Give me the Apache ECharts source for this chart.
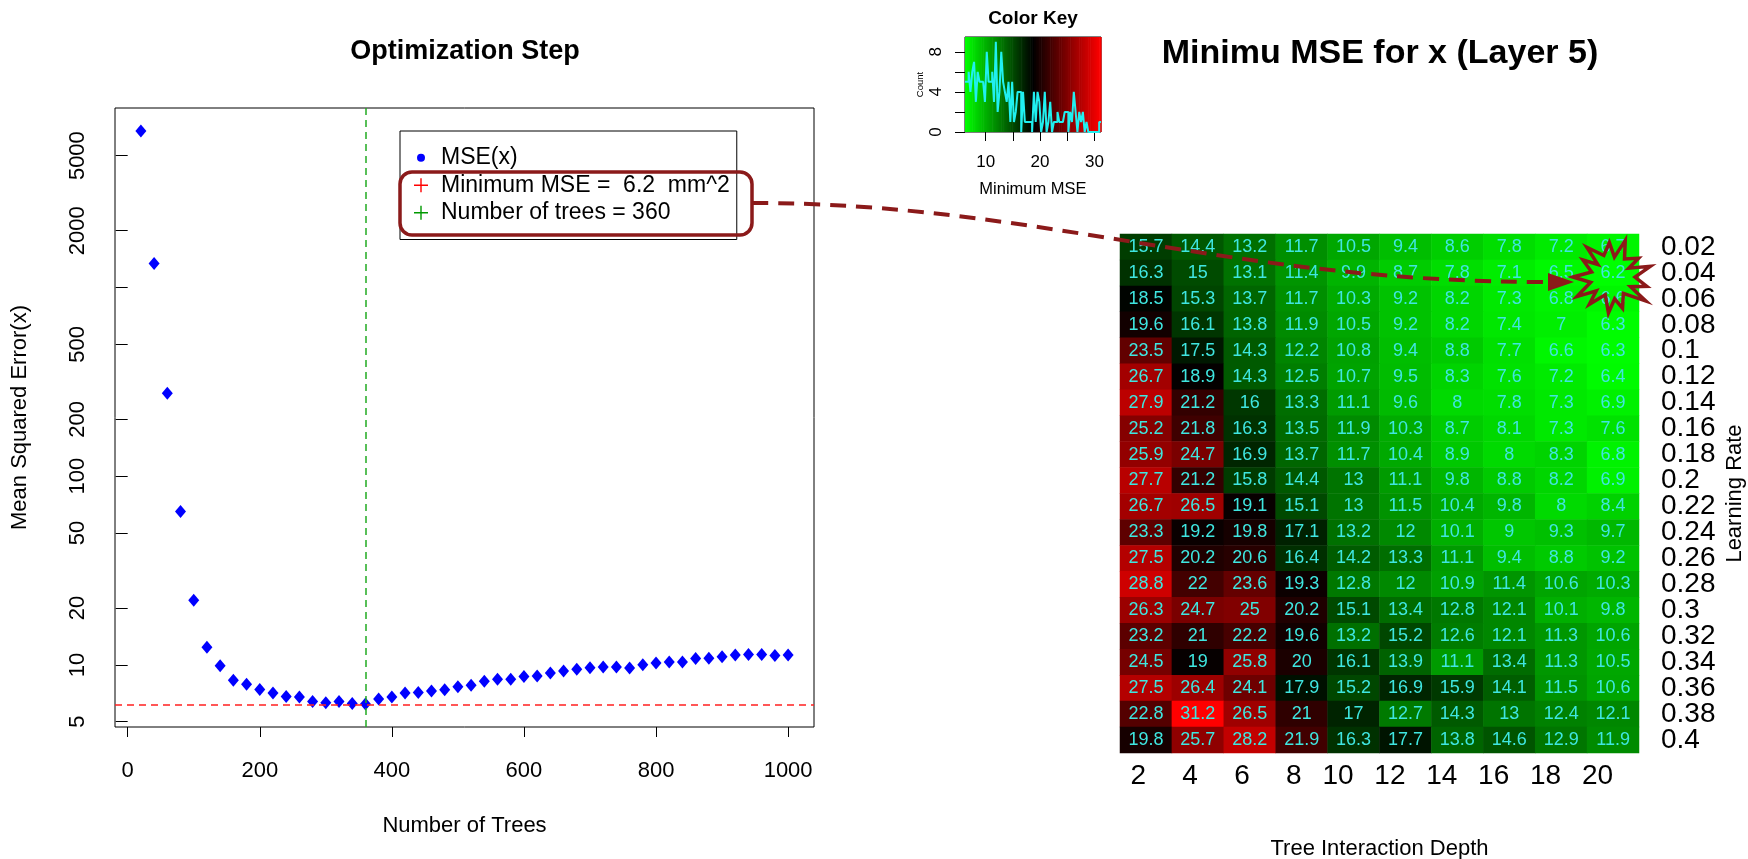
<!DOCTYPE html>
<html><head><meta charset="utf-8">
<script src="https://cdn.jsdelivr.net/npm/echarts@6/dist/echarts.min.js"></script>
<style>html,body{margin:0;padding:0;background:#fff}#c{width:1748px;height:859px}</style>
</head><body><div id="c"></div>
<script>
// ---------- data ----------
const trees = [20,40,60,80,100,120,140,160,180,200,220,240,260,280,300,320,340,360,380,400,
  420,440,460,480,500,520,540,560,580,600,620,640,660,680,700,720,740,760,780,800,
  820,840,860,880,900,920,940,960,980,1000];
const mse = [6760,1340,275,65,22,12.4,9.9,8.3,7.9,7.4,7.1,6.8,6.75,6.4,6.3,6.4,6.25,6.2,6.6,6.75,
  7.1,7.15,7.27,7.38,7.67,7.79,8.18,8.39,8.39,8.67,8.74,9.06,9.28,9.47,9.67,9.74,9.74,9.62,10.03,10.23,
  10.35,10.35,10.8,10.85,11.06,11.28,11.37,11.37,11.2,11.3];
const xTickValues = [0,200,400,600,800,1000];
const yTickValues = [5,10,20,50,100,200,500,1000,2000,5000];
const yLabelValues = [5,10,20,50,100,200,500,2000,5000];

const depthLabels = ['2','4','6','8','10','12','14','16','18','20'];
const rateLabels = ['0.02','0.04','0.06','0.08','0.1','0.12','0.14','0.16','0.18','0.2',
  '0.22','0.24','0.26','0.28','0.3','0.32','0.34','0.36','0.38','0.4'];
const mseGrid = [
  [15.7,14.4,13.2,11.7,10.5,9.4,8.6,7.8,7.2,6.7],
  [16.3,15,13.1,11.4,9.9,8.7,7.8,7.1,6.5,6.2],
  [18.5,15.3,13.7,11.7,10.3,9.2,8.2,7.3,6.8,6.6],
  [19.6,16.1,13.8,11.9,10.5,9.2,8.2,7.4,7,6.3],
  [23.5,17.5,14.3,12.2,10.8,9.4,8.8,7.7,6.6,6.3],
  [26.7,18.9,14.3,12.5,10.7,9.5,8.3,7.6,7.2,6.4],
  [27.9,21.2,16,13.3,11.1,9.6,8,7.8,7.3,6.9],
  [25.2,21.8,16.3,13.5,11.9,10.3,8.7,8.1,7.3,7.6],
  [25.9,24.7,16.9,13.7,11.7,10.4,8.9,8,8.3,6.8],
  [27.7,21.2,15.8,14.4,13,11.1,9.8,8.8,8.2,6.9],
  [26.7,26.5,19.1,15.1,13,11.5,10.4,9.8,8,8.4],
  [23.3,19.2,19.8,17.1,13.2,12,10.1,9,9.3,9.7],
  [27.5,20.2,20.6,16.4,14.2,13.3,11.1,9.4,8.8,9.2],
  [28.8,22,23.6,19.3,12.8,12,10.9,11.4,10.6,10.3],
  [26.3,24.7,25,20.2,15.1,13.4,12.8,12.1,10.1,9.8],
  [23.2,21,22.2,19.6,13.2,15.2,12.6,12.1,11.3,10.6],
  [24.5,19,25.8,20,16.1,13.9,11.1,13.4,11.3,10.5],
  [27.5,26.4,24.1,17.9,15.2,16.9,15.9,14.1,11.5,10.6],
  [22.8,31.2,26.5,21,17,12.7,14.3,13,12.4,12.1],
  [19.8,25.7,28.2,21.9,16.3,17.7,13.8,14.6,12.9,11.9]
];
const keyTickValues = [10,15,20,25,30];
const keyLabelValues = [10,20,30];
const keyCountTicks = [0,2,4,6,8];
const keyCountLabels = [0,4,8];
const keyBins = 75;

// ---------- derived ----------
const FONT = 'Liberation Sans, Arial, sans-serif';
const minIdx = mse.indexOf(Math.min(...mse));
const minMSE = mse[minIdx];
const bestTrees = trees[minIdx];
const xr = [Math.min(...trees), Math.max(...trees)];
const xExt = (xr[1]-xr[0])*0.04;
const ly = mse.map(v => Math.log10(v));
const yr = [Math.min(...ly), Math.max(...ly)];
const yExt = (yr[1]-yr[0])*0.04;

const heatData = [];
mseGrid.forEach((row, r) => row.forEach((v, c) => heatData.push([c, r, v])));
const flat = mseGrid.flat();
const vmin = Math.min(...flat), vmax = Math.max(...flat);
const breaks = [];
for (let i = 0; i <= keyBins; i++) breaks.push(vmin + (vmax - vmin) * i / keyBins);
const counts = new Array(keyBins).fill(0);
flat.forEach(v => {
  let k = Math.ceil((v - vmin) / (vmax - vmin) * keyBins - 1e-9) - 1;
  if (k < 0) k = 0; if (k >= keyBins) k = keyBins - 1;
  counts[k]++;
});
const maxCount = Math.max(...counts);
const histLine = breaks.map((b, i) => [b, counts[Math.min(i, keyBins - 1)]]);
const keyRects = [];
for (let i = 0; i < keyBins; i++) keyRects.push([breaks[i], breaks[i+1], (breaks[i]+breaks[i+1])/2]);
const keyYMax = maxCount / 0.95;

const minLabel = 'Minimum MSE =  ' + minMSE + '  mm^2';
const treesLabel = 'Number of trees = ' + bestTrees;
const plusIcon = 'path://M6.3,0H7.7V6.3H14V7.7H7.7V14H6.3V7.7H0V6.3H6.3Z';
const dotIcon = 'path://M0,0M14,14M11,7A4,4,0,1,1,3,7A4,4,0,1,1,11,7Z';

const DARKRED = '#8b1a1a';
const GREEN = '#22aa22';
const RED = '#ff2020';

// starburst outline (decoration)
const starC = [1612, 277];
const starOuter = [42,37,44,40,45,36,43,39,46,38,42,40,44];
const starInner = [21,19,23,20,22,19,23,21,20,22,19,21,22];
const starJit = [0,0.08,-0.06,0.05,-0.04,0.07,-0.05,0.04,-0.07,0.06,-0.03,0.05,-0.06];
const starPts = [];
for (let i = 0; i < starOuter.length; i++) {
  const a0 = Math.PI * 2 * i / starOuter.length + Math.PI + starJit[i];
  const a1 = Math.PI * 2 * (i + 0.5) / starOuter.length + Math.PI;
  starPts.push([starC[0] + Math.cos(a0) * starOuter[i] * 0.93, starC[1] + Math.sin(a0) * starOuter[i] * 0.86]);
  starPts.push([starC[0] + Math.cos(a1) * starInner[i], starC[1] + Math.sin(a1) * starInner[i]]);
}

const chart = echarts.init(document.getElementById('c'), null, {renderer: 'canvas'});
chart.setOption({
  animation: false,
  backgroundColor: '#fff',
  textStyle: {fontFamily: FONT},
  title: [
    {text: 'Optimization Step', left: 465, top: 52, textAlign: 'center', textVerticalAlign: 'middle', padding: 0,
      textStyle: {fontSize: 27, fontWeight: 'bold', color: '#000', fontFamily: FONT}},
    {text: 'Minimu MSE for x (Layer 5)', left: 1380, top: 54, textAlign: 'center', textVerticalAlign: 'middle', padding: 0,
      textStyle: {fontSize: 34, fontWeight: 'bold', color: '#000', fontFamily: FONT}},
    {text: 'Color Key', left: 1033, top: 19, textAlign: 'center', textVerticalAlign: 'middle', padding: 0,
      textStyle: {fontSize: 19, fontWeight: 'bold', color: '#000', fontFamily: FONT}}
  ],
  legend: {
    left: 400, top: 131, orient: 'vertical', padding: [13, 7, 13, 14], itemGap: 0,
    itemWidth: 14, itemHeight: 14, borderColor: '#000', borderWidth: 1, backgroundColor: '#fff',
    selectedMode: false,
    itemStyle: {opacity: 1},
    textStyle: {fontSize: 23, color: '#000', fontFamily: FONT, lineHeight: 27.5, padding: [0, 0, 0, 8]},
    data: [{name: 'MSE(x)', icon: dotIcon}, {name: minLabel, icon: plusIcon}, {name: treesLabel, icon: plusIcon}]
  },
  visualMap: {
    show: false, type: 'continuous', min: vmin, max: vmax, dimension: 2, seriesIndex: [3, 4],
    inRange: {color: ['#00ff00', '#000000', '#ff0000']}
  },
  grid: [
    {left: 115, top: 108, width: 699, height: 619, show: true, borderColor: '#000', borderWidth: 1,
      backgroundColor: 'transparent', outerBoundsMode: 'none', containLabel: false},
    {left: 1120, top: 234, width: 519, height: 519, show: false, outerBoundsMode: 'none', containLabel: false},
    {left: 965, top: 37, width: 136, height: 95, show: true, borderColor: '#000', borderWidth: 1,
      backgroundColor: 'transparent', outerBoundsMode: 'none', containLabel: false}
  ],
  xAxis: [
    {type: 'value', gridIndex: 0, min: xr[0] - xExt, max: xr[1] + xExt,
      name: 'Number of Trees', nameLocation: 'middle', nameGap: 88,
      nameTextStyle: {fontSize: 22, color: '#000', fontFamily: FONT},
      splitLine: {show: false}, axisLine: {show: false},
      axisTick: {show: true, length: 10, inside: false, customValues: xTickValues, lineStyle: {color: '#000'}},
      axisLabel: {fontSize: 22, color: '#000', margin: 33, customValues: xTickValues, fontFamily: FONT,
        formatter: v => String(v)}},
    {type: 'category', gridIndex: 1, data: depthLabels, position: 'bottom',
      name: 'Tree Interaction Depth', nameLocation: 'middle', nameGap: 85,
      nameTextStyle: {fontSize: 22, color: '#000', fontFamily: FONT},
      axisLine: {show: false}, axisTick: {show: false}, splitLine: {show: false},
      axisLabel: {fontSize: 28, color: '#000', margin: 9, interval: 0, align: 'right', fontFamily: FONT}},
    {type: 'value', gridIndex: 2, min: vmin, max: vmax,
      name: 'Minimum MSE', nameLocation: 'middle', nameGap: 49,
      nameTextStyle: {fontSize: 16.5, color: '#000', fontFamily: FONT},
      splitLine: {show: false}, axisLine: {show: false},
      axisTick: {show: true, length: 9, customValues: keyTickValues, lineStyle: {color: '#000'}},
      axisLabel: {fontSize: 17, color: '#000', margin: 22, customValues: keyLabelValues, fontFamily: FONT}}
  ],
  yAxis: [
    {type: 'value', gridIndex: 0, min: yr[0] - yExt, max: yr[1] + yExt,
      name: 'Mean Squared Error(x)', nameLocation: 'middle', nameGap: 84, nameRotate: 90,
      nameTextStyle: {fontSize: 22, color: '#000', fontFamily: FONT},
      splitLine: {show: false}, axisLine: {show: false},
      axisTick: {show: true, length: 12, customValues: yTickValues.map(v => Math.log10(v)), lineStyle: {color: '#000'}},
      axisLabel: {fontSize: 22, color: '#000', margin: 26, rotate: 90, fontFamily: FONT,
        customValues: yLabelValues.map(v => Math.log10(v)),
        formatter: v => String(Math.round(Math.pow(10, v)))}},
    {type: 'category', gridIndex: 1, data: rateLabels, inverse: true, position: 'right',
      name: 'Learning Rate', nameLocation: 'middle', nameGap: 85, nameRotate: 90,
      nameTextStyle: {fontSize: 22, color: '#000', fontFamily: FONT},
      axisLine: {show: false}, axisTick: {show: false}, splitLine: {show: false},
      axisLabel: {fontSize: 28, color: '#000', margin: 22, interval: 0, fontFamily: FONT}},
    {type: 'value', gridIndex: 2, min: 0, max: keyYMax,
      name: 'Count', nameLocation: 'middle', nameGap: 40, nameRotate: 90,
      nameTextStyle: {fontSize: 9.5, color: '#000', fontFamily: FONT},
      splitLine: {show: false}, axisLine: {show: false},
      axisTick: {show: true, length: 10, customValues: keyCountTicks, lineStyle: {color: '#000'}},
      axisLabel: {fontSize: 17, color: '#000', margin: 20, rotate: 90, customValues: keyCountLabels, fontFamily: FONT}}
  ],
  series: [
    {name: 'MSE(x)', type: 'scatter', xAxisIndex: 0, yAxisIndex: 0,
      data: trees.map((t, i) => [t, ly[i]]),
      symbol: 'diamond', symbolSize: [11, 13], itemStyle: {color: '#0000ff', opacity: 1}, z: 3,
      markLine: {silent: true, symbol: 'none', label: {show: false}, animation: false,
        data: [
          {yAxis: Math.log10(minMSE), lineStyle: {color: RED, type: [7, 5], width: 1.5}},
          {xAxis: bestTrees, lineStyle: {color: GREEN, type: [7, 5], width: 1.5}}
        ]}},
    {name: minLabel, type: 'scatter', xAxisIndex: 0, yAxisIndex: 0, data: [], itemStyle: {color: '#ff0000', opacity: 1}},
    {name: treesLabel, type: 'scatter', xAxisIndex: 0, yAxisIndex: 0, data: [], itemStyle: {color: '#009900', opacity: 1}},
    {name: 'heat', type: 'heatmap', xAxisIndex: 1, yAxisIndex: 1, data: heatData,
      label: {show: true, color: '#3fe6e0', fontSize: 18, fontFamily: FONT, formatter: p => String(p.value[2])},
      emphasis: {disabled: true}, itemStyle: {borderWidth: 0}},
    {name: 'key', type: 'custom', xAxisIndex: 2, yAxisIndex: 2, data: keyRects, silent: true, z: 1,
      renderItem: (params, api) => {
        const p0 = api.coord([api.value(0), 0]);
        const p1 = api.coord([api.value(1), keyYMax]);
        return {type: 'rect', shape: {x: p0[0], y: p1[1], width: p1[0] - p0[0] + 0.6, height: p0[1] - p1[1]},
          style: {fill: api.visual('color')}};
      }},
    {name: 'hist', type: 'line', xAxisIndex: 2, yAxisIndex: 2, data: histLine, step: 'end',
      showSymbol: false, symbol: 'none', silent: true, z: 3,
      lineStyle: {color: '#20f0f0', width: 2}}
  ],
  graphic: [
    {type: 'rect', z: 100, shape: {x: 400, y: 172, width: 352, height: 63, r: 12},
      style: {fill: null, stroke: DARKRED, lineWidth: 3.5}},
    {type: 'bezierCurve', z: 100, shape: {x1: 752, y1: 203, cpx1: 1040, cpy1: 203, cpx2: 1230, cpy2: 283, x2: 1550, y2: 282},
      style: {fill: null, stroke: DARKRED, lineWidth: 4, lineDash: [16, 10]}},
    {type: 'polygon', z: 100, shape: {points: [[1548, 273], [1574, 282], [1548, 291]]},
      style: {fill: DARKRED}},
    {type: 'polygon', z: 100, shape: {points: starPts},
      style: {fill: null, stroke: DARKRED, lineWidth: 3.5, lineJoin: 'miter'}}
  ]
});
</script>
</body></html>
